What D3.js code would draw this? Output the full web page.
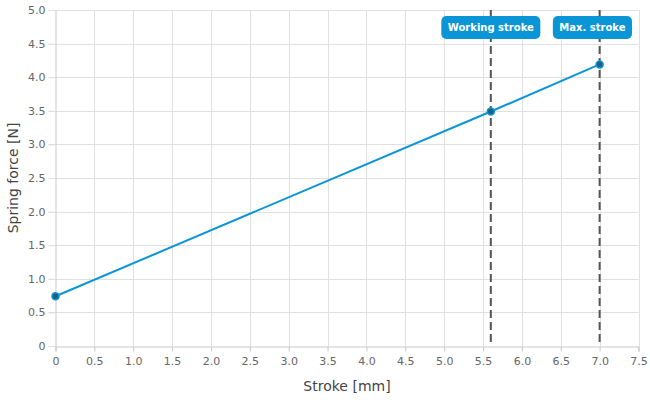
<!DOCTYPE html>
<html><head><meta charset="utf-8">
<script src="https://cdn.jsdelivr.net/npm/d3@7"></script>
<style>body{margin:0;background:#fff;}svg{display:block;font-family:"DejaVu Sans",sans-serif;}</style>
</head><body><svg id="c" width="650" height="400"></svg>
<script>
const strokeMm = [0, 5.6, 7.0];
const forceN = [0.74, 3.49, 4.19];
const markerLabels = ["Working stroke", "Max. stroke"];
const markerPositions = [5.6, 7.0];
const xTicks = [0,0.5,1,1.5,2,2.5,3,3.5,4,4.5,5,5.5,6,6.5,7,7.5];
const yTicks = [0,0.5,1,1.5,2,2.5,3,3.5,4,4.5,5];

const svg = d3.select("#c");
const m = {l:55.5, r:638.5, t:10, b:346};
const x = d3.scaleLinear().domain([0,7.5]).range([m.l, m.r]);
const y = d3.scaleLinear().domain([0,5]).range([m.b, m.t]);
const fmt = d => d === 0 ? "0" : d.toFixed(1);

// grid
svg.append("g").selectAll("line").data(xTicks.slice(1)).join("line")
  .attr("x1", d=>Math.round(x(d))+0.5).attr("x2", d=>Math.round(x(d))+0.5)
  .attr("y1", m.t).attr("y2", m.b).attr("stroke","#e0e0e0");
svg.append("g").selectAll("line").data(yTicks.slice(1)).join("line")
  .attr("y1", d=>Math.round(y(d))+0.5).attr("y2", d=>Math.round(y(d))+0.5)
  .attr("x1", m.l-7).attr("x2", m.r).attr("stroke","#e0e0e0");

// axes
const xa = svg.append("g").attr("transform",`translate(0,${m.b+0.5})`)
  .call(d3.axisBottom(x).tickValues(xTicks).tickFormat(fmt).tickSize(5).tickPadding(6));
const ya = svg.append("g").attr("transform",`translate(${m.l},0)`)
  .call(d3.axisLeft(y).tickValues(yTicks).tickFormat(fmt).tickSize(7).tickPadding(3));
[xa, ya].forEach(a => {
  a.select(".domain").attr("stroke","#c8c8c8");
  a.selectAll(".tick line").attr("stroke","#c8c8c8");
  a.selectAll(".tick text").attr("fill","#666").attr("font-size",11).attr("font-family","DejaVu Sans, sans-serif");
});
ya.selectAll(".tick line").attr("stroke","#e0e0e0");

// dashed markers
svg.append("g").selectAll("line").data(markerPositions).join("line")
  .attr("x1", d=>x(d)).attr("x2", d=>x(d)).attr("y1", m.t).attr("y2", m.b)
  .attr("stroke","#555").attr("stroke-width",2).attr("stroke-dasharray","8,4");

// line
const pts = strokeMm.map((v,i)=>[v, forceN[i]]);
svg.append("path").datum(pts)
  .attr("d", d3.line().x(d=>x(d[0])).y(d=>y(d[1])))
  .attr("fill","none").attr("stroke","#0a96d6").attr("stroke-width",2);
svg.append("g").selectAll("circle").data(pts).join("circle")
  .attr("cx", d=>x(d[0])).attr("cy", d=>y(d[1])).attr("r",3.5)
  .attr("fill","#1f5f82").attr("stroke","#0a96d6").attr("stroke-width",1.5);

// labels (kept inside the plot, right edge clamped)
const maxRight = m.r - 6.5;
const lg = svg.append("g").selectAll("g").data(markerLabels).join("g");
lg.each(function(d,i){
  const g = d3.select(this);
  const t = g.append("text").text(d).attr("text-anchor","middle").attr("dy","0.35em")
    .attr("fill","#fff").attr("font-weight","bold").attr("font-size",10);
  const w = t.node().getComputedTextLength() + 13;
  let cx = x(markerPositions[i]);
  if (cx + w/2 > maxRight) cx = maxRight - w/2;
  g.attr("transform",`translate(${cx},27.5)`);
  g.insert("rect","text").attr("x",-w/2).attr("y",-11.5).attr("width",w).attr("height",23)
    .attr("rx",5).attr("fill","#0a96d6");
});

// titles
svg.append("text").attr("x",(m.l+m.r)/2).attr("y",391).attr("text-anchor","middle")
  .attr("fill","#444").attr("font-size",14).text("Stroke [mm]");
svg.append("text").attr("transform",`translate(18,${(m.t+m.b)/2}) rotate(-90)`)
  .attr("text-anchor","middle").attr("fill","#444").attr("font-size",14).text("Spring force [N]");
</script></body></html>
